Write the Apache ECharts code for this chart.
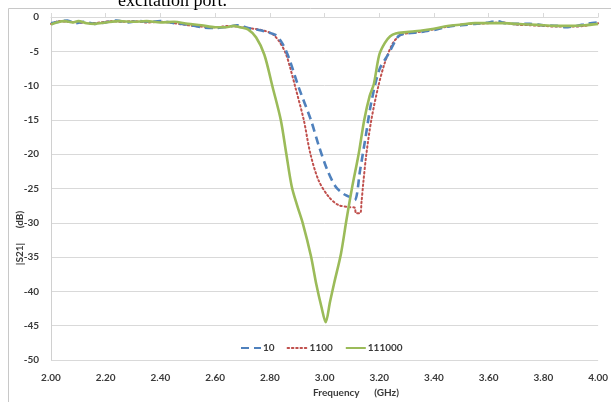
<!DOCTYPE html>
<html>
<head>
<meta charset="utf-8">
<script src="https://cdn.jsdelivr.net/npm/echarts@6/dist/echarts.min.js"></script>
<style>
html,body{margin:0;padding:0;background:#fff;}
#chart{width:611px;height:402px;}
</style>
</head>
<body>
<div id="chart"></div>
<script>
// ---- data ----
const seriesNames = ['10', '1100', '111000'];
const xTickLabels = ['2.00','2.20','2.40','2.60','2.80','3.00','3.20','3.40','3.60','3.80','4.00'];
const yTickLabels = ['0','-5','-10','-15','-20','-25','-30','-35','-40','-45','-50'];

const freq10 = [2.00,2.03,2.06,2.09,2.12,2.16,2.20,2.24,2.28,2.32,2.36,2.40,2.45,2.50,2.55,2.60,2.65,2.68,2.72,2.76,2.79,2.82,2.845,2.87,2.905,2.95,2.98,3.01,3.04,3.07,3.09,3.11,3.13,3.15,3.17,3.20,3.235,3.27,3.30,3.35,3.38,3.40,3.45,3.50,3.55,3.60,3.63,3.66,3.70,3.75,3.80,3.85,3.88,3.92,3.96,4.00];
const s21_10 = [-0.9,-0.7,-0.5,-0.9,-0.7,-1.0,-0.8,-0.5,-0.8,-0.6,-0.7,-0.6,-0.9,-1.1,-1.5,-1.6,-1.4,-1.2,-1.6,-1.9,-2.2,-2.6,-3.8,-6.0,-10.2,-15.0,-18.9,-22.3,-24.7,-25.8,-26.2,-26.7,-22.3,-17.5,-12.6,-7.7,-5.3,-2.8,-2.4,-2.2,-2.0,-1.9,-1.4,-1.2,-1.0,-0.8,-0.6,-0.9,-1.0,-1.0,-1.2,-1.3,-1.5,-1.3,-1.0,-0.8];

const freq1100 = [2.00,2.03,2.06,2.10,2.14,2.18,2.22,2.26,2.30,2.35,2.40,2.45,2.50,2.55,2.60,2.65,2.70,2.74,2.78,2.81,2.835,2.858,2.875,2.893,2.924,2.948,2.978,3.015,3.05,3.09,3.11,3.115,3.13,3.135,3.142,3.153,3.171,3.196,3.22,3.25,3.28,3.32,3.36,3.40,3.45,3.50,3.55,3.60,3.65,3.70,3.75,3.80,3.85,3.90,3.95,4.00];
const s21_1100 = [-1.0,-0.6,-0.7,-0.8,-0.9,-0.8,-0.6,-0.7,-0.6,-0.8,-0.7,-0.9,-1.2,-1.4,-1.5,-1.3,-1.5,-1.7,-2.0,-2.5,-3.6,-5.3,-7.5,-10.2,-15.0,-19.9,-23.8,-26.2,-27.4,-27.7,-27.8,-28.6,-28.6,-27.0,-24.0,-19.9,-15.0,-10.2,-6.7,-3.8,-2.6,-2.3,-2.1,-1.8,-1.4,-1.1,-1.0,-0.9,-0.8,-1.1,-1.2,-1.3,-1.4,-1.4,-1.3,-0.9];

const freq111000 = [2.00,2.02,2.05,2.08,2.10,2.13,2.16,2.20,2.25,2.30,2.35,2.40,2.45,2.50,2.55,2.60,2.64,2.67,2.69,2.72,2.75,2.78,2.81,2.84,2.86,2.88,2.90,2.92,2.95,2.97,2.99,3.004,3.02,3.035,3.06,3.08,3.10,3.125,3.145,3.165,3.18,3.20,3.22,3.24,3.26,3.30,3.35,3.40,3.45,3.50,3.55,3.60,3.65,3.70,3.75,3.80,3.85,3.90,3.95,4.00];
const s21_111000 = [-1.1,-0.8,-0.6,-0.8,-0.6,-0.9,-1.0,-0.8,-0.6,-0.7,-0.6,-0.8,-0.7,-1.0,-1.2,-1.5,-1.5,-1.3,-1.5,-1.8,-3.0,-5.5,-10.2,-15.0,-19.9,-24.7,-27.5,-30.0,-34.8,-39.0,-42.5,-44.5,-41.5,-38.8,-34.5,-29.6,-25.0,-19.9,-15.0,-11.5,-9.8,-5.5,-3.8,-2.8,-2.4,-2.2,-2.0,-1.7,-1.3,-1.1,-0.9,-0.9,-0.9,-1.0,-1.1,-1.2,-1.3,-1.3,-1.2,-1.0];

const pair = (xs, ys) => xs.map((x, i) => [x, ys[i]]);

const labelFont = {fontFamily: 'Lato', fontWeight: 'bold', fontSize: 10, color: '#3a3a3a'};

const chart = echarts.init(document.getElementById('chart'), null, {renderer: 'canvas'});
chart.setOption({
  animation: false,
  backgroundColor: '#fff',
  grid: {left: 51, right: 10, top: 17, bottom: 42, containLabel: false},
  legend: {
    data: seriesNames,
    left: 235, top: 338,
    itemWidth: 20, itemHeight: 8, itemGap: 12,
    itemStyle: {color: 'rgba(0,0,0,0)', borderColor: 'rgba(0,0,0,0)', borderWidth: 0, opacity: 0},
    textStyle: Object.assign({}, labelFont, {padding: [0, 0, 0, -3]})
  },
  xAxis: [{
    type: 'value', min: 2, max: 4, interval: 0.2,
    position: 'bottom',
    axisLine: {show: false}, axisTick: {show: false}, splitLine: {show: false},
    axisLabel: Object.assign({}, labelFont, {margin: 13, formatter: v => xTickLabels[Math.round((v - 2) / 0.2)] || ''})
  }, {
    type: 'value', min: 2, max: 4, interval: 0.2,
    position: 'top',
    axisLine: {show: true, lineStyle: {color: '#d9d9d9', width: 1}},
    axisTick: {show: true, length: 4, lineStyle: {color: '#d9d9d9'}},
    axisLabel: {show: false}, splitLine: {show: false}
  }],
  yAxis: {
    type: 'value', min: -50, max: 0, interval: 5,
    axisLine: {show: true, lineStyle: {color: '#d0d0d0', width: 1}},
    axisTick: {show: false},
    splitLine: {show: true, lineStyle: {color: '#d9d9d9', width: 1}},
    axisLabel: Object.assign({}, labelFont, {margin: 12, formatter: v => yTickLabels[Math.round(-v / 5)]})
  },
  graphic: [
    {type: 'rect', shape: {x: 8.5, y: 8.5, width: 640, height: 440}, style: {fill: 'none', stroke: '#c8c8c8', lineWidth: 1}, silent: true, z: -1},
    {type: 'text', x: 118, y: 10, style: {text: 'excitation port.', font: '18px "Liberation Serif"', fill: '#000', textVerticalAlign: 'bottom'}},
    {type: 'text', x: 20, y: 238, rotation: Math.PI / 2, style: {text: '|S21|      (dB)', font: 'bold 10px Lato', fill: '#3a3a3a', textAlign: 'center', textVerticalAlign: 'middle'}},
    {type: 'text', x: 356, y: 393, style: {text: 'Frequency      (GHz)', font: 'bold 10px Lato', fill: '#3a3a3a', textAlign: 'center', textVerticalAlign: 'middle'}}
  ],
  series: [
    {name: seriesNames[0], type: 'line', data: pair(freq10, s21_10), symbol: 'none', smooth: 0.3,
     lineStyle: {color: '#4F81BD', width: 2.6, type: [8, 5]}, itemStyle: {color: '#4F81BD'}, z: 3},
    {name: seriesNames[1], type: 'line', data: pair(freq1100, s21_1100), symbol: 'none', smooth: 0.3,
     lineStyle: {color: '#C0504D', width: 2, type: [1.5, 2.8], cap: 'round'}, itemStyle: {color: '#C0504D'}, z: 2},
    {name: seriesNames[2], type: 'line', data: pair(freq111000, s21_111000), symbol: 'none', smooth: 0.3,
     lineStyle: {color: '#9BBB59', width: 2.6}, itemStyle: {color: '#9BBB59'}, z: 4}
  ]
});
</script>
</body>
</html>
